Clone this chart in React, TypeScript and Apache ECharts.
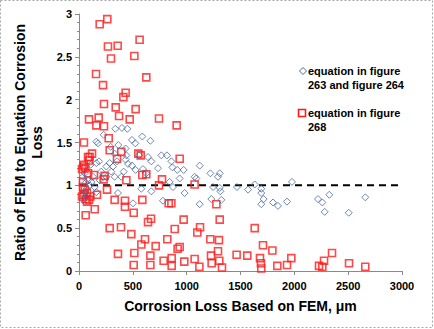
import React, { useEffect, useRef } from "react";
import * as echarts from "echarts";

const xTicks = [0, 500, 1000, 1500, 2000, 2500, 3000];
const yTicks = [0, 0.5, 1, 1.5, 2, 2.5, 3];

const seriesNames = ["equation in figure\n263 and figure 264", "equation in figure\n268"];

// ratio points for equation in figure 263 and figure 264 (blue diamonds)
const diamondPoints: number[][] = [
  [37, 1.10], [62, 1.03], [74, 0.96], [53, 0.93], [84, 0.87], [37, 0.83], [99, 1.00], [146, 0.98],
  [161, 0.92], [115, 1.04], [192, 1.06], [254, 1.10], [300, 1.16], [331, 1.10], [393, 1.10], [53, 1.14],
  [130, 1.10], [84, 1.06], [108, 1.24], [337, 1.66], [399, 1.67], [449, 1.66], [229, 1.59], [588, 1.57],
  [663, 1.52], [161, 1.51], [176, 1.49], [492, 1.53], [523, 1.49], [365, 1.47], [294, 1.45], [433, 1.43],
  [331, 1.37], [440, 1.35], [765, 1.35], [817, 1.35], [641, 1.33], [557, 1.35], [186, 1.28], [161, 1.26],
  [285, 1.26], [353, 1.28], [433, 1.30], [455, 1.25], [672, 1.28], [858, 1.28], [254, 1.22], [316, 1.22],
  [492, 1.23], [734, 1.20], [867, 1.21], [972, 1.18], [913, 1.18], [1121, 1.23], [526, 1.18], [594, 1.19],
  [207, 1.16], [415, 1.16], [625, 1.14], [1220, 1.14], [1307, 1.14], [1074, 1.10], [1090, 1.08], [1291, 1.10],
  [935, 1.08], [842, 1.04], [1978, 1.04], [1632, 1.01], [1467, 0.98], [1570, 0.95], [873, 0.98], [579, 0.96],
  [672, 0.93], [362, 0.91], [981, 0.91], [1307, 0.97], [1313, 0.93], [1245, 0.98], [1693, 0.96], [1693, 0.91],
  [1715, 0.84], [2325, 0.89], [2659, 0.86], [1322, 0.83], [1229, 0.84], [780, 0.82], [1802, 0.80], [1932, 0.81],
  [2220, 0.84], [2260, 0.80], [1121, 0.78], [1693, 0.78], [1848, 0.76], [502, 0.79], [2282, 0.69], [2505, 0.68],
];

// ratio points for equation in figure 268 (red squares)
const squarePoints: number[][] = [
  [263, 2.94], [192, 2.88], [563, 2.70], [269, 2.62], [359, 2.63], [297, 2.48], [514, 2.51], [158, 2.30],
  [625, 2.26], [223, 2.17], [433, 2.08], [412, 2.03], [232, 1.95], [341, 1.91], [526, 1.89], [372, 1.81],
  [93, 1.77], [183, 1.79], [471, 1.77], [743, 1.78], [907, 1.70], [161, 1.70], [232, 1.69], [276, 1.55],
  [46, 1.50], [285, 1.41], [393, 1.39], [121, 1.37], [551, 1.37], [353, 1.31], [935, 1.31], [573, 1.35],
  [46, 1.24], [59, 1.20], [28, 1.19], [84, 1.33], [625, 1.13], [588, 1.12], [139, 1.12], [238, 1.11],
  [440, 1.06], [771, 1.07], [229, 1.07], [743, 1.00], [1074, 1.01], [260, 0.95], [167, 0.89], [331, 0.83],
  [427, 0.82], [588, 0.83], [427, 0.75], [858, 0.79], [833, 0.79], [1276, 0.78], [146, 0.72], [62, 0.65],
  [508, 0.68], [669, 0.61], [641, 0.57], [972, 0.60], [1307, 0.60], [285, 0.50], [390, 0.51], [889, 0.49],
  [1124, 0.51], [1099, 0.45], [1632, 0.50], [486, 0.43], [613, 0.37], [820, 0.37], [1220, 0.37], [1300, 0.36],
  [712, 0.29], [579, 0.31], [1709, 0.30], [935, 0.28], [916, 0.26], [1796, 0.24], [1291, 0.23], [362, 0.20],
  [514, 0.21], [663, 0.18], [1464, 0.19], [1563, 0.18], [1226, 0.18], [2350, 0.21], [1074, 0.14], [1681, 0.15],
  [1972, 0.15], [861, 0.15], [786, 0.12], [1303, 0.12], [2276, 0.12], [1232, 0.09], [978, 0.11], [1690, 0.09],
  [508, 0.07], [663, 0.07], [861, 0.06], [1118, 0.05], [1328, 0.04], [1693, 0.03], [1842, 0.06], [1932, 0.07],
  [2229, 0.06], [2260, 0.05], [2508, 0.09], [2659, 0.05],
  [37, 0.98], [53, 0.95], [46, 0.89], [62, 0.84], [74, 0.81], [28, 0.87], [74, 0.91], [93, 0.83],
  [105, 0.87], [37, 1.04], [84, 1.14], [93, 1.29], [99, 1.33], [43, 1.22],
];

const referenceLine: number[][] = [[0, 1], [3000, 1]];

const BLUE = "#4a6a9c";
const RED = "#ff1a1a";
const FONT = "'Liberation Sans', Arial, sans-serif";

export default function App() {
  const ref = useRef<HTMLDivElement>(null);
  useEffect(() => {
    if (!ref.current) return;
    const chart = echarts.init(ref.current, null, { renderer: "svg" });
    const axisLine = { show: true, lineStyle: { color: "#8a8a8a", width: 1 } };
    chart.setOption({
      animation: false,
      backgroundColor: "#ffffff",
      grid: { left: 79, right: 32, top: 14, bottom: 58, containLabel: false },
      xAxis: {
        type: "value",
        min: xTicks[0],
        max: xTicks[xTicks.length - 1],
        interval: 500,
        name: "Corrosion Loss Based on FEM, μm",
        nameLocation: "middle",
        nameGap: 28,
        nameTextStyle: { fontFamily: FONT, fontWeight: "bold", fontSize: 14, color: "#000" },
        axisLine,
        axisTick: { show: true, length: 4, lineStyle: { color: "#8a8a8a" } },
        axisLabel: {
          fontFamily: FONT, fontWeight: "bold", fontSize: 11, color: "#000", margin: 9,
          formatter: (v: number) => String(v),
        },
        splitLine: { show: false },
      },
      yAxis: {
        type: "value",
        min: yTicks[0],
        max: yTicks[yTicks.length - 1],
        interval: 0.5,
        name: "Ratio of FEM to Equation Corrosion\nLoss",
        nameLocation: "middle",
        nameRotate: 90,
        nameGap: 31,
        nameTextStyle: { fontFamily: FONT, fontWeight: "bold", fontSize: 14, color: "#000", lineHeight: 17 },
        axisLine,
        axisTick: { show: true, length: 4, lineStyle: { color: "#8a8a8a" } },
        minorTick: { show: true, splitNumber: 5, length: 2, lineStyle: { color: "#8a8a8a" } },
        axisLabel: {
          fontFamily: FONT, fontWeight: "bold", fontSize: 11, color: "#000", margin: 7,
          formatter: (v: number) => String(v),
        },
        splitLine: { show: false },
      },
      series: [
        {
          name: "reference",
          type: "line",
          data: referenceLine,
          symbol: "none",
          silent: true,
          lineStyle: { color: "#000", width: 2, type: [7, 5] },
          z: 1,
        },
        {
          name: seriesNames[1],
          type: "scatter",
          data: squarePoints,
          symbol: "rect",
          symbolSize: 7,
          itemStyle: { color: "rgba(0,0,0,0)", borderColor: RED, borderWidth: 1.6 },
          z: 2,
        },
        {
          name: seriesNames[0],
          type: "scatter",
          data: diamondPoints,
          symbol: "diamond",
          symbolSize: 7,
          itemStyle: { color: "rgba(0,0,0,0)", borderColor: BLUE, borderWidth: 1 },
          z: 3,
        },
      ],
      graphic: [
        {
          type: "rect",
          shape: { x: 0.5, y: 0.5, width: 432, height: 327 },
          style: { fill: "none", stroke: "#a8a8a8", lineWidth: 1, lineDash: [2, 2] },
          silent: true,
        },
        {
          type: "polygon",
          shape: { points: [[303, 67.5], [306.5, 71], [303, 74.5], [299.5, 71]] },
          style: { fill: "none", stroke: BLUE, lineWidth: 1 },
        },
        {
          type: "text",
          top: 64,
          left: 308,
          style: {
            text: seriesNames[0],
            fontFamily: FONT,
            fontWeight: "bold",
            fontSize: 11,
            lineHeight: 14,
            fill: "#000",
            verticalAlign: "top",
            align: "left",
          },
        },
        {
          type: "rect",
          shape: { x: 298.5, y: 109.5, width: 7, height: 7 },
          style: { fill: "none", stroke: RED, lineWidth: 1.6 },
        },
        {
          type: "text",
          left: 308,
          top: 106,
          style: {
            text: seriesNames[1],
            fontFamily: FONT,
            fontWeight: "bold",
            fontSize: 11,
            lineHeight: 14,
            fill: "#000",
            verticalAlign: "top",
            align: "left",
          },
        },
      ],
    });
    return () => chart.dispose();
  }, []);
  return (
    <div
      ref={ref}
      style={{ position: "absolute", left: 0, top: 0, width: 434, height: 329, background: "#fff" }}
    />
  );
}
